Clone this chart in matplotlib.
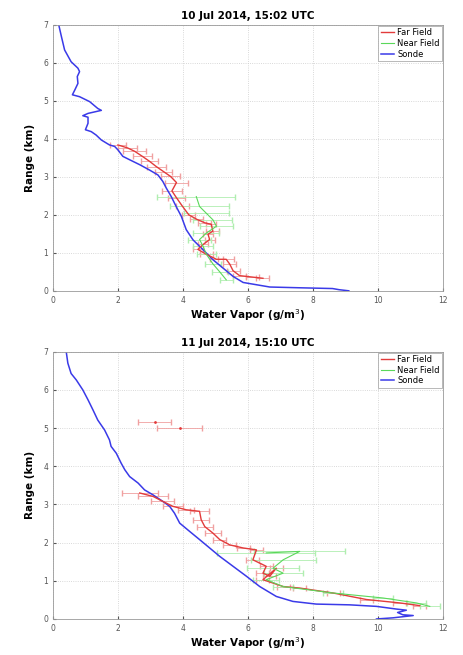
import matplotlib
matplotlib.use("Agg")
import matplotlib.pyplot as plt
import numpy as np

# ---- 10 Jul 2014 ----
sonde1_x = [0.18, 0.26, 0.36, 0.56, 0.77, 0.82, 0.75, 0.77, 0.67, 0.60, 0.82, 1.13, 1.38, 1.49,
            1.08, 0.92, 1.08, 1.08, 1.00, 1.18, 1.33, 1.49, 1.74, 1.90, 2.00, 2.15, 2.36, 2.67,
            2.97, 3.23, 3.38, 3.49, 3.64, 3.79, 3.95, 4.10, 4.31, 4.62, 4.92, 5.23, 5.54, 5.85,
            6.26, 6.67, 7.59, 8.60, 8.80, 9.10]
sonde1_y = [7.00, 6.70, 6.34, 6.03, 5.86, 5.77, 5.64, 5.46, 5.28, 5.16, 5.11, 4.98, 4.80, 4.75,
            4.67, 4.61, 4.57, 4.41, 4.24, 4.19, 4.10, 3.97, 3.84, 3.80, 3.71, 3.54, 3.45, 3.32,
            3.18, 3.05, 2.88, 2.70, 2.48, 2.22, 1.96, 1.61, 1.34, 1.08, 0.82, 0.60, 0.38, 0.22,
            0.16, 0.10, 0.08, 0.06, 0.03, 0.00]

far1_x = [2.00, 2.30, 2.52, 2.75, 2.97, 3.18, 3.40, 3.62, 3.80, 3.66, 3.80, 3.98, 4.18, 4.43,
          4.67, 4.87, 4.92, 4.77, 4.82, 4.62, 4.46, 4.72, 5.03, 5.33, 5.44, 5.54, 5.74, 6.15, 6.46]
far1_y = [3.84, 3.76, 3.67, 3.54, 3.41, 3.27, 3.14, 3.01, 2.85, 2.63, 2.45, 2.23, 2.00, 1.88,
          1.79, 1.75, 1.57, 1.49, 1.35, 1.22, 1.09, 0.96, 0.83, 0.83, 0.70, 0.53, 0.40, 0.36, 0.33]
far1_err = [0.25, 0.3, 0.35, 0.3, 0.25, 0.3, 0.25, 0.3, 0.35, 0.3, 0.25, 0.2, 0.2, 0.2,
            0.2, 0.15, 0.2, 0.15, 0.15, 0.15, 0.15, 0.2, 0.2, 0.25, 0.2, 0.2, 0.2, 0.2, 0.2]

near1_x = [4.41, 4.51, 4.72, 4.92, 5.03, 4.72, 4.51, 4.62, 4.72, 4.92, 5.13, 5.33]
near1_y = [2.48, 2.22, 2.04, 1.87, 1.70, 1.52, 1.35, 1.17, 0.96, 0.71, 0.50, 0.29]
near1_err = [1.2, 0.9, 0.7, 0.6, 0.5, 0.4, 0.35, 0.3, 0.3, 0.25, 0.25, 0.2]

# ---- 11 Jul 2014 ----
sonde2_x = [0.41, 0.46, 0.56, 0.72, 0.92, 1.08, 1.23, 1.38, 1.59, 1.74, 1.79, 1.95, 2.10, 2.21,
            2.36, 2.62, 2.82, 3.08, 3.38, 3.59, 3.74, 3.90, 4.21, 4.51, 4.82, 5.13, 5.54, 5.95,
            6.36, 6.87, 7.38, 8.10, 9.13, 9.95, 10.56, 10.87, 10.60, 10.76, 11.08, 10.46, 9.95]
sonde2_y = [7.00, 6.70, 6.43, 6.26, 6.00, 5.74, 5.48, 5.21, 4.95, 4.69, 4.52, 4.34, 4.08, 3.91,
            3.73, 3.56, 3.38, 3.25, 3.08, 2.95, 2.77, 2.51, 2.29, 2.08, 1.86, 1.64, 1.38, 1.12,
            0.85, 0.59, 0.46, 0.39, 0.37, 0.33, 0.26, 0.23, 0.17, 0.11, 0.09, 0.03, 0.00]

far2_x = [2.67, 3.08, 3.38, 3.69, 4.10, 4.51, 4.56, 4.67, 4.92, 5.13, 5.44, 5.85, 6.26, 6.15,
          6.56, 6.46, 6.67, 6.87, 6.46, 7.08, 7.59, 8.62, 9.64, 10.67, 11.28]
far2_y = [3.30, 3.21, 3.08, 2.95, 2.86, 2.82, 2.60, 2.42, 2.25, 2.08, 1.94, 1.86, 1.81, 1.55,
          1.38, 1.20, 1.12, 1.33, 1.03, 0.85, 0.81, 0.68, 0.51, 0.42, 0.35]
far2_err = [0.55, 0.45, 0.35, 0.3, 0.25, 0.3, 0.25, 0.25, 0.25, 0.2, 0.2, 0.2, 0.2, 0.2,
            0.2, 0.2, 0.2, 0.2, 0.2, 0.2, 0.2, 0.2, 0.2, 0.2, 0.2]
far2_hi_x = [3.13, 3.90]
far2_hi_y = [5.17, 5.00]
far2_hi_err = [0.5, 0.7]

near2_x = [6.56, 7.59, 7.08, 6.77, 7.08, 6.56, 7.08, 8.62, 10.15, 11.18, 11.59]
near2_y = [1.73, 1.77, 1.55, 1.33, 1.20, 1.03, 0.85, 0.68, 0.55, 0.42, 0.33]
near2_err = [1.5, 1.4, 1.0, 0.8, 0.6, 0.4, 0.3, 0.3, 0.3, 0.3, 0.3]

red = '#e23b3b'
green = '#5ad85a'
blue = '#3a3ae8'

fig = plt.figure(figsize=(4.64, 6.55), dpi=100)
ax1 = fig.add_axes([0.114, 0.556, 0.841, 0.406])
ax2 = fig.add_axes([0.114, 0.055, 0.841, 0.408])


def panel(ax, title, sx, sy, fx, fy, fe, nx, ny, ne, extra=None):
    hf = ax.errorbar(fx, fy, xerr=fe, color=red, lw=1.0, elinewidth=0.6, capsize=2,
                     ecolor='#f0a0a0')
    hn = ax.errorbar(nx, ny, xerr=ne, color=green, lw=0.8, elinewidth=0.6, capsize=2,
                     ecolor='#b0eeb0')
    if extra is not None:
        ax.errorbar(extra[0], extra[1], xerr=extra[2], fmt='.', ms=2, color=red,
                    elinewidth=0.6, capsize=2, ecolor='#f0a0a0')
    hs, = ax.plot(sx, sy, color=blue, lw=1.1)
    ax.set_xlim(0, 12)
    ax.set_ylim(0, 7)
    ax.set_xticks(range(0, 13, 2))
    ax.set_yticks(range(0, 8))
    ax.tick_params(direction='in', labelsize=5.5, colors='#555555', length=2)
    ax.grid(True, linestyle=':', color='#cccccc', lw=0.6)
    for s in ax.spines.values():
        s.set_color('#999999')
        s.set_linewidth(0.6)
    ax.set_title(title, fontsize=7.5, fontweight='bold', pad=4)
    ax.set_xlabel('Water Vapor (g/m$^3$)', fontsize=7.5, fontweight='bold', labelpad=2)
    ax.set_ylabel('Range (km)', fontsize=7.5, fontweight='bold', labelpad=6)
    leg = ax.legend([hf.lines[0], hn.lines[0], hs], ['Far Field', 'Near Field', 'Sonde'],
                    loc='upper right', fontsize=6, frameon=True, fancybox=False,
                    borderpad=0.3, handlelength=1.6, handletextpad=0.4, labelspacing=0.2,
                    borderaxespad=0.1)
    leg.get_frame().set_edgecolor('#999999')
    leg.get_frame().set_linewidth(0.6)


panel(ax1, '10 Jul 2014, 15:02 UTC', sonde1_x, sonde1_y, far1_x, far1_y, far1_err,
      near1_x, near1_y, near1_err)
panel(ax2, '11 Jul 2014, 15:10 UTC', sonde2_x, sonde2_y, far2_x, far2_y, far2_err,
      near2_x, near2_y, near2_err, extra=(far2_hi_x, far2_hi_y, far2_hi_err))

fig.savefig('out.png', dpi=100)
